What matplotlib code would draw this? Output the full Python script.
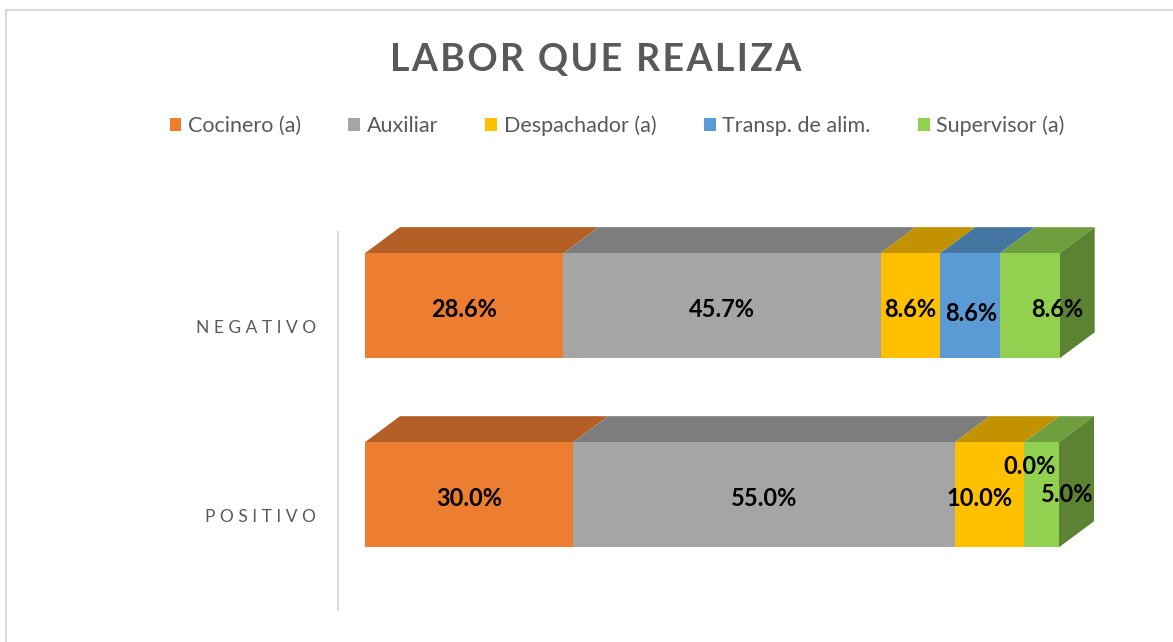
import numpy as np
import matplotlib.pyplot as plt
from matplotlib.patches import Patch, Polygon
from matplotlib.lines import Line2D
from matplotlib.colors import to_rgb

categories = ['NEGATIVO', 'POSITIVO']
series = ['Cocinero (a)', 'Auxiliar', 'Despachador (a)', 'Transp. de alim.', 'Supervisor (a)']
values = {
    'NEGATIVO': [28.6, 45.7, 8.6, 8.6, 8.6],
    'POSITIVO': [30.0, 55.0, 10.0, 0.0, 5.0],
}
colors = ['#ED7D31', '#A5A5A5', '#FFC000', '#5B9BD5', '#92D050']

# label nudges (x in %, y in band units) to follow the original placement
nudges = {
    'NEGATIVO': [(0, 0.02), (0, 0.02), (0, 0.02), (0.2, 0.04), (3.9, 0.02)],
    'POSITIVO': [(0, 0.02), (0, 0.02), (-1.4, 0.02), (0.8, -0.15), (3.7, 0.0)],
}

W, H = 1173, 642
fig = plt.figure(figsize=(W / 100, H / 100), dpi=100)
fig.patch.set_facecolor('white')

# chart border (top and left visible)
fig.add_artist(Line2D([6 / W, 6 / W], [0, 1 - 10 / H], color='#d9d9d9', lw=1.5))
fig.add_artist(Line2D([6 / W, 1], [1 - 10 / H, 1 - 10 / H], color='#d9d9d9', lw=1.5))

ax = fig.add_axes([338 / W, 1 - 610 / H, (1100 - 338) / W, 378 / H])
ax.set_xlim(-27 / 694 * 100, (1100 - 365) / 694 * 100)
ax.set_ylim(2, 0)

bar_h = 0.556
shift = 0.11
dx = 35 / 694 * 100
dy = 26 / 189


def shade(c, f):
    r, g, b = to_rgb(c)
    return (r * f, g * f, b * f)


for i, cat in enumerate(categories):
    vals = values[cat]
    yc = i + 0.5 - shift
    top = yc - bar_h / 2
    left = 0
    last = None
    for j, v in enumerate(vals):
        ax.barh(yc, v, left=left, height=bar_h, color=colors[j], edgecolor='none', zorder=2)
        if v > 0:
            ax.add_patch(Polygon([(left, top), (left + v, top), (left + v + dx, top - dy), (left + dx, top - dy)],
                                 closed=True, facecolor=shade(colors[j], 0.76), edgecolor='none',
                                 zorder=1, clip_on=False))
            last = j
        nx, ny = nudges[cat][j]
        ax.text(left + v / 2 + nx, yc + ny, f'{v:.1f}%', ha='center', va='center',
                fontsize=17, fontweight='bold', family='Lato', color='black', zorder=5)
        left += v
    # right side face
    ax.add_patch(Polygon([(left, top), (left + dx, top - dy), (left + dx, top - dy + bar_h), (left, top + bar_h)],
                         closed=True, facecolor=shade(colors[last], 0.63), edgecolor='none',
                         zorder=1, clip_on=False))

for s in ['top', 'right', 'bottom']:
    ax.spines[s].set_visible(False)
ax.spines['left'].set_color('#d9d9d9')
ax.spines['left'].set_linewidth(1.5)
ax.set_xticks([])
ax.set_yticks([0.5, 1.5])
ax.set_yticklabels([' '.join(c) for c in categories], family='Lato', fontsize=12.5, color='#595959')
ax.tick_params(axis='y', length=0, pad=16)

fig.text(596 / W, 1 - 60 / H, '\u200a'.join('LABOR QUE REALIZA'), ha='center', va='center',
         fontsize=27, fontweight='bold', family=['Lato', 'DejaVu Sans'], color='#595959')

handles = [Patch(facecolor=c, edgecolor='none') for c in colors]
fig.legend(handles, series, loc='center', bbox_to_anchor=(617 / W, 1 - 126 / H), ncol=5,
           frameon=False, prop={'family': 'Lato', 'size': 15.5}, labelcolor='#595959',
           handlelength=0.55, handleheight=0.55, handletextpad=0.3, columnspacing=2.2)

fig.savefig('out.png', dpi=100, facecolor='white')
